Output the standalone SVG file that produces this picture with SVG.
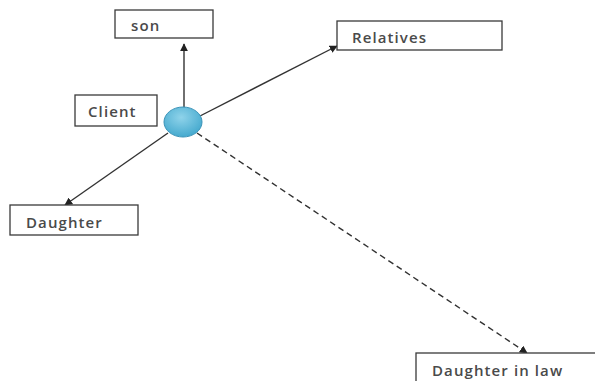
<svg xmlns="http://www.w3.org/2000/svg" width="595" height="381" viewBox="0 0 595 381">
<style>
.box{fill:#fff;stroke:#3a3a3a;stroke-width:1.3}
.lbl{font-family:"Open Sans","Liberation Sans",sans-serif;font-size:15px;letter-spacing:1.1px;fill:#4a4a4a;font-weight:600}
.edge{stroke:#333;stroke-width:1.4;fill:none}
</style>
<defs>
<marker id="ah" viewBox="0 0 10 10" refX="9" refY="5" markerWidth="8" markerHeight="8" orient="auto" markerUnits="userSpaceOnUse">
<path d="M0,0 L10,5 L0,10 z" fill="#222"/>
</marker>
<radialGradient id="g" cx="0.45" cy="0.35" r="0.7">
<stop offset="0" stop-color="#8fd3ea"/>
<stop offset="1" stop-color="#3fa6cc"/>
</radialGradient>
</defs>
<rect width="595" height="381" fill="#fff"/>
<g id="connectors">
<line class="edge" x1="184" y1="108" x2="184" y2="44" marker-end="url(#ah)"/>
<line class="edge" x1="200" y1="116" x2="337" y2="46" marker-end="url(#ah)"/>
<line class="edge" x1="168" y1="133" x2="65" y2="205" marker-end="url(#ah)"/>
<line class="edge" x1="197" y1="133" x2="527" y2="353" stroke-dasharray="6,4" marker-end="url(#ah)"/>
</g>
<g id="son">
<rect class="box" x="115" y="10" width="98" height="28"/>
<text class="lbl" x="131" y="31">son</text>
</g>
<g id="relatives">
<rect class="box" x="337" y="21" width="165" height="29"/>
<text class="lbl" x="352" y="43">Relatives</text>
</g>
<g id="client">
<rect class="box" x="75" y="95" width="82" height="31"/>
<text class="lbl" x="88" y="117">Client</text>
</g>
<g id="daughter">
<rect class="box" x="10" y="205" width="128" height="30"/>
<text class="lbl" x="26" y="228">Daughter</text>
</g>
<g id="daughter-in-law">
<rect class="box" x="416" y="353" width="190" height="40"/>
<text class="lbl" x="432" y="376">Daughter in law</text>
</g>
<g id="center">
<ellipse cx="183" cy="122" rx="19" ry="15" fill="url(#g)" stroke="#3a93b8" stroke-width="1"/>
</g>
</svg>
